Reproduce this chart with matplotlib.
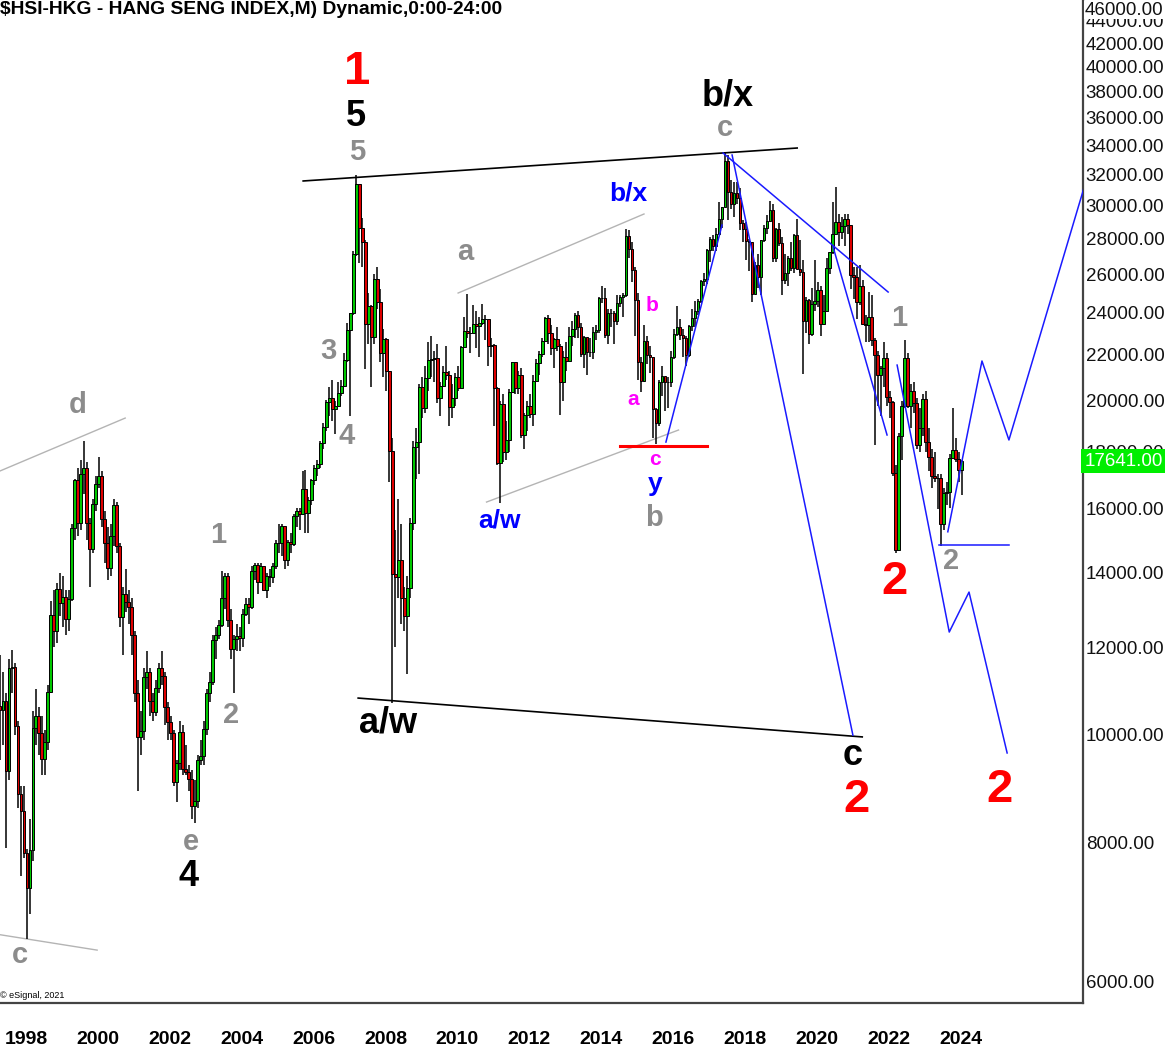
import numpy as np
import matplotlib.pyplot as plt
from matplotlib.transforms import blended_transform_factory

# monthly candles, Nov 1997 .. Aug 2024 (open = previous close)
start_year, start_month = 1997, 11
first_open = 10623
closes = [
    10527, 10723,
    9289, 11479, 11520, 10178, 8848, 8543, 7822, 7275, 7883, 10154, 10402, 10049,
    9507, 9858, 10942, 12826, 12411, 13532, 13146, 13328, 12733, 13256, 15378, 16962,
    15532, 17169, 17406, 15519, 14713, 16155, 16841, 17097, 15648, 14895, 14145, 15096,
    16102, 14788, 12761, 13386, 13174, 13043, 12316, 10905, 9951, 10073, 11280, 11397,
    10725, 10482, 11033, 11497, 11301, 10598, 10268, 10044, 9072, 9441, 10069, 9321,
    9258, 9122, 8634, 8717, 9487, 9577, 10134, 10908, 11170, 12190, 12317, 12576,
    13289, 13908, 12682, 11942, 12198, 12285, 12239, 12850, 13120, 13054, 14060, 14230,
    13721, 14195, 13516, 13908, 13868, 14201, 14880, 14903, 15428, 14386, 14937, 14876,
    15753, 15918, 15805, 16661, 15857, 16267, 16971, 17392, 17543, 18324, 18960, 19965,
    20107, 19652, 19801, 20319, 20634, 21773, 23185, 23984, 27143, 31352, 28643, 27813,
    23456, 24332, 22849, 25755, 24533, 22102, 22731, 21262, 18016, 13969, 13888, 14387,
    13278, 12811, 13576, 15521, 18171, 18379, 20573, 19724, 20955, 21753, 21822, 21873,
    20122, 20608, 21239, 21108, 19765, 20129, 21030, 20536, 22359, 23096, 23008, 23035,
    23447, 23338, 23528, 23720, 23684, 22398, 22440, 20535, 17592, 19864, 17989, 18434,
    20390, 21680, 20556, 21094, 18630, 19441, 19796, 19482, 20840, 21642, 22030, 22657,
    23730, 23020, 22300, 22737, 22392, 20803, 21883, 21731, 22860, 23206, 23881, 23306,
    22035, 22837, 22151, 22134, 23082, 23191, 24757, 24742, 22933, 23998, 23987, 23605,
    24507, 24823, 24901, 28133, 27424, 26250, 24636, 21670, 20846, 22640, 21996, 21914,
    19683, 19112, 20777, 21067, 20815, 20794, 21891, 22977, 23297, 22935, 22790, 22001,
    23361, 23741, 24112, 24615, 25661, 25765, 27324, 27970, 27554, 28246, 29177, 29919,
    32887, 30845, 30093, 30808, 30469, 28955, 28583, 27889, 27789, 24980, 26507, 25846,
    27942, 28633, 29051, 29699, 26901, 28543, 27778, 25725, 26092, 26907, 26346, 28190,
    26313, 26130, 23603, 24644, 22961, 24427, 24595, 25177, 23459, 24107, 26341, 27231,
    28284, 28980, 28378, 28725, 29152, 28828, 25961, 25879, 24576, 25377, 23475, 23398,
    23802, 22713, 21997, 21089, 21415, 21860, 20157, 19954, 17223, 14687, 18597, 19781,
    21842, 19786, 20400, 19895, 18234, 18916, 20079, 18382, 17810, 17112, 17043, 17047,
    15485, 16511, 16541, 17763, 18080, 17719, 17344, 17641,
]
highs = [
    11800, 11400,
    10900, 11700, 11926, 11600, 10300, 9000, 9000, 7900, 8400, 10500, 11000, 10600,
    10400, 10100, 11100, 13200, 13500, 13700, 14000, 13900, 13500, 13500, 15500, 17000,
    17400, 17700, 18397, 17600, 15700, 16300, 17100, 17800, 17300, 15900, 15400, 15500,
    16300, 16200, 14900, 13600, 14100, 13500, 13300, 12400, 11200, 10500, 11500, 11900,
    11500, 10900, 11200, 11600, 11900, 11400, 10700, 10400, 10100, 9500, 10300, 10200,
    9800, 9400, 9300, 9100, 9600, 9900, 10300, 11000, 11400, 12300, 12500, 12700,
    14058, 14000, 14000, 13000, 12300, 12600, 12500, 13000, 13300, 13300, 14200, 14300,
    14300, 14300, 14200, 14000, 14100, 14300, 15000, 15500, 15500, 15400, 15000, 15200,
    15800, 16000, 16000, 17300, 17330, 16400, 17000, 17500, 17700, 18400, 19100, 20050,
    20600, 20900, 20000, 20800, 20900, 22100, 23500, 24000, 27300, 31958, 31000, 29200,
    27900, 25000, 24400, 26000, 26387, 25200, 23200, 22800, 21300, 18500, 15300, 16300,
    15500, 13600, 13900, 15700, 18400, 18900, 20700, 21000, 21500, 22600, 22900, 22200,
    22500, 20800, 21500, 22400, 21300, 20700, 21200, 21500, 22400, 23800, 24988, 23300,
    24400, 24100, 23800, 24468, 23900, 23300, 22800, 22500, 20600, 20000, 20300, 19200,
    20500, 21700, 21500, 21300, 21400, 19500, 20000, 20300, 21100, 21800, 22200, 22800,
    23800, 23900, 23400, 22800, 23300, 22500, 22200, 22600, 23300, 23600, 24000, 24100,
    23500, 22900, 22600, 22800, 23300, 23400, 24800, 25362, 25300, 24200, 24200, 24100,
    24900, 24900, 25000, 28588, 28500, 27800, 26400, 25000, 21900, 23400, 22900, 22400,
    21900, 19700, 20900, 21500, 21000, 21000, 22200, 23200, 24364, 23700, 23200, 22900,
    23400, 24200, 24600, 24700, 25700, 26100, 27400, 28100, 28200, 28600, 30200, 29900,
    33484, 33300, 31600, 31500, 31500, 31100, 29100, 29000, 28000, 27800, 26700, 27100,
    27900, 28800, 29400, 30280, 30100, 28600, 28900, 28100, 27100, 27000, 27800, 28300,
    29175, 27900, 26800, 24800, 24700, 25300, 26782, 25600, 25400, 24900, 26900, 27200,
    30191, 31183, 29500, 29300, 29500, 29500, 28400, 26400, 26400, 26500, 25700, 23900,
    25050, 24900, 22800, 22200, 21500, 22600, 22100, 20400, 20000, 17500, 18700, 20000,
    22701, 22100, 20700, 20800, 20100, 19700, 20300, 20400, 18900, 18100, 18000, 17200,
    17200, 16700, 16900, 17900, 19706, 18500, 18000, 17700,
]
lows = [
    9500, 9800,
    7909, 9100, 10900, 10000, 8600, 7462, 7750, 6544, 6900, 7700, 9800, 9600,
    9200, 9200, 9700, 10900, 12000, 12100, 12800, 12500, 12300, 12400, 13200, 15000,
    15100, 15300, 16500, 15000, 13600, 14600, 15900, 16700, 15400, 14300, 13800, 13900,
    14800, 14600, 12500, 11800, 12900, 12600, 11800, 10700, 8894, 9600, 9900, 11000,
    10400, 10300, 10400, 10900, 11100, 10200, 9900, 9900, 9000, 8700, 9300, 9200,
    9200, 8900, 8400, 8331, 8600, 9400, 9400, 10000, 10700, 11100, 11700, 12200,
    12500, 13000, 12500, 11700, 10917, 11900, 11900, 12000, 12800, 12600, 13000, 13800,
    13400, 13700, 13500, 13300, 13600, 13700, 14100, 14600, 14500, 14100, 14200, 14600,
    14800, 15400, 15300, 15800, 15200, 15200, 16100, 16800, 17100, 17400, 18100, 18800,
    19400, 19200, 18659, 19800, 20200, 20600, 21700, 19386, 23900, 27000, 26600, 26400,
    21384, 22500, 20572, 22500, 24200, 21700, 21000, 20400, 16900, 10676, 12000, 13300,
    12600, 12400, 11344, 13300, 15300, 17000, 17200, 19300, 19500, 20400, 21000, 20800,
    19900, 19400, 20600, 20900, 18971, 19300, 19800, 20400, 20700, 22300, 22800, 22100,
    23300, 22300, 21900, 23400, 22700, 21500, 21900, 19000, 17500, 16170, 17600, 17700,
    18000, 20400, 20300, 20300, 18500, 18100, 18800, 19300, 19000, 20800, 21100, 21900,
    22600, 22500, 22000, 21400, 22200, 19426, 20000, 21300, 21700, 22400, 22800, 22800,
    21900, 21400, 21100, 21900, 21800, 22700, 23000, 24500, 22800, 22500, 23300, 22500,
    23400, 24300, 23800, 24800, 26900, 25600, 22900, 20865, 20368, 20800, 21600, 21200,
    18534, 18279, 19000, 20200, 19600, 19700, 20600, 21800, 22900, 22700, 21900, 21500,
    21900, 23100, 23300, 23900, 24500, 25400, 25500, 26700, 27300, 27300, 28300, 28600,
    30000, 29100, 29800, 29300, 30100, 28500, 27800, 26800, 26200, 24540, 25100, 25300,
    24900, 27800, 28300, 29000, 26700, 26700, 27600, 24900, 25500, 25400, 26200, 26100,
    26300, 25900, 21139, 23000, 22500, 22900, 24100, 24300, 22900, 23400, 24200, 26000,
    27100, 28500, 27600, 28000, 27600, 28300, 25200, 24700, 23700, 24400, 23400, 22600,
    22600, 22400, 18235, 19800, 19400, 20600, 19800, 19300, 17100, 14597, 14900, 17700,
    19700, 19700, 18900, 19500, 18100, 18000, 18600, 18000, 17300, 16700, 16900, 15972,
    14794, 15300, 16100, 16000, 17900, 17600, 16900, 16441,
]
last_price = 17641

# wave-count guide lines (decimal year, price)
top_line = ([2006.31, 2020.05], [31560, 33794])
bottom_line = ([2007.84, 2021.86], [10796, 9960])
grey_lines = [
    ([1997.8, 2001.36], [17250, 19299]),
    ([1997.8, 2000.58], [6614, 6400]),
    ([2010.62, 2015.79], [25014, 29471]),
    ([2011.41, 2016.75], [16213, 18826]),
]
red_level = ([2015.12, 2017.54], [18229, 18229])
blue_lines = [
    ([2016.40, 2017.96], [18362, 28804]),
    ([2017.99, 2022.58], [33444, 25066]),
    ([2018.24, 2021.60], [33307, 9997]),
    ([2021.05, 2022.55], [27523, 18633]),
    ([2022.83, 2024.28, 2024.83, 2025.89], [21541, 12381, 13451, 9634]),
    ([2024.24, 2025.19, 2025.94, 2028.20], [15243, 21725, 18441, 32490]),
    ([2024.0, 2025.94], [14830, 14830]),
]

RED, BLACK, GREY, BLUE, MAG = "#ff0000", "#000000", "#8c8c8c", "#0000ff", "#ff00ff"
labels = [
    ("1", 2007.81, 39563, RED, 34),
    ("5", 2007.78, 36040, BLACK, 26),
    ("5", 2007.81, 33513, GREY, 21),
    ("b/x", 2018.13, 37643, BLACK, 26),
    ("c", 2018.05, 35227, GREY, 21),
    ("b/x", 2015.35, 30720, BLUE, 19),
    ("a", 2010.81, 27238, GREY, 21),
    ("b", 2016.01, 24399, MAG, 15),
    ("a", 2015.49, 20076, MAG, 15),
    ("c", 2016.10, 17724, MAG, 15),
    ("y", 2016.10, 16833, BLUE, 19),
    ("b", 2016.07, 15684, GREY, 21),
    ("a/w", 2011.76, 15620, BLUE, 19),
    ("3", 2007.00, 22180, GREY, 21),
    ("4", 2007.53, 18592, GREY, 21),
    ("d", 2000.05, 19828, GREY, 21),
    ("1", 2003.94, 15142, GREY, 21),
    ("2", 2004.30, 10424, GREY, 21),
    ("e", 2003.19, 8008, GREY, 21),
    ("4", 2003.11, 7461, BLACK, 26),
    ("c", 1998.43, 6335, GREY, 21),
    ("a/w", 2008.67, 10250, BLACK, 26),
    ("c", 2021.60, 9592, BLACK, 26),
    ("2", 2021.69, 8738, RED, 34),
    ("2", 2022.77, 13736, RED, 34),
    ("1", 2022.88, 23751, GREY, 21),
    ("2", 2024.33, 14347, GREY, 21),
    ("2", 2025.69, 8921, RED, 34),
]

plt.rcParams["font.family"] = ["Liberation Sans", "DejaVu Sans"]

fig = plt.figure(figsize=(11.65, 10.49), dpi=100)
ax = fig.add_axes([0.0, 0.04385, 0.92961, 0.95615])
ax.set_yscale("log")
ax.set_xlim(1997.878, 2028.0)
ax.set_ylim(5735, 45940)

closes_a = np.array(closes, dtype=float)
opens_a = np.concatenate([[first_open], closes_a[:-1]])
t = np.array([start_year + (start_month - 1 + i + 0.5) / 12 for i in range(len(closes))])
up = closes_a >= opens_a

ax.vlines(t, lows, highs, color="black", lw=1.1, zorder=3)
ax.bar(t, np.abs(closes_a - opens_a), bottom=np.minimum(opens_a, closes_a),
       width=0.075, color=np.where(up, "#00c800", "#dd0000"),
       edgecolor="black", linewidth=0.7, zorder=4)

# guide lines
ax.plot(*top_line, color="black", lw=1.2, zorder=2)
ax.plot(*bottom_line, color="black", lw=1.2, zorder=2)
for xs, ys in grey_lines:
    ax.plot(xs, ys, color="#b4b4b4", lw=1.0, zorder=2)
ax.plot(*red_level, color="#ff0000", lw=2.2, zorder=2)
for xs, ys in blue_lines:
    ax.plot(xs, ys, color="#1a1aff", lw=1.1, zorder=5)

for txt, x, y, c, s in labels:
    ax.text(x, y, txt, color=c, fontsize=s, fontweight="bold",
            ha="center", va="center", zorder=6)

# axes styling
for side in ["left", "top"]:
    ax.spines[side].set_visible(False)
for side in ["right", "bottom"]:
    ax.spines[side].set_color("#444444")
    ax.spines[side].set_linewidth(1.6)

yt = list(range(6000, 46000, 2000))
ax.yaxis.tick_right()
ax.set_yticks(yt)
ax.set_yticklabels([f"{v}.00" for v in yt])
ax.yaxis.set_minor_locator(plt.NullLocator())
ax.tick_params(axis="y", length=0, pad=2, labelsize=13.5, labelcolor="#111111")
ax.text(1.0015, 0.9985, "46000.00", transform=ax.transAxes, ha="left", va="top",
        fontsize=13.5, color="#111111", clip_on=False,
        bbox=dict(facecolor="white", edgecolor="none", pad=0.5))

years = list(range(1998, 2026, 2))
ax.set_xticks(years)
ax.set_xticklabels([str(y) for y in years], ha="left")
ax.tick_params(axis="x", length=0, pad=20)
for lab in ax.get_xticklabels():
    lab.set_fontfamily(["Liberation Sans Narrow", "Liberation Sans"])
    lab.set_fontsize(14)
    lab.set_fontweight("bold")

trans = blended_transform_factory(ax.transAxes, ax.transData)
ax.text(1.0015, last_price, f"{last_price}.00", transform=trans, ha="left",
        va="center", fontsize=13.5, color="white", clip_on=False,
        bbox=dict(facecolor="#00ee00", edgecolor="none", pad=2.5))

fig.text(0.0, 0.999, "$HSI-HKG - HANG SENG INDEX,M) Dynamic,0:00-24:00",
         ha="left", va="top", fontsize=13.9, fontweight="bold")
fig.text(0.0, 1 - 995 / 1049, "\u00a9 eSignal, 2021", ha="left", va="center",
         fontsize=6.5)

fig.savefig("out.png", dpi=100)
